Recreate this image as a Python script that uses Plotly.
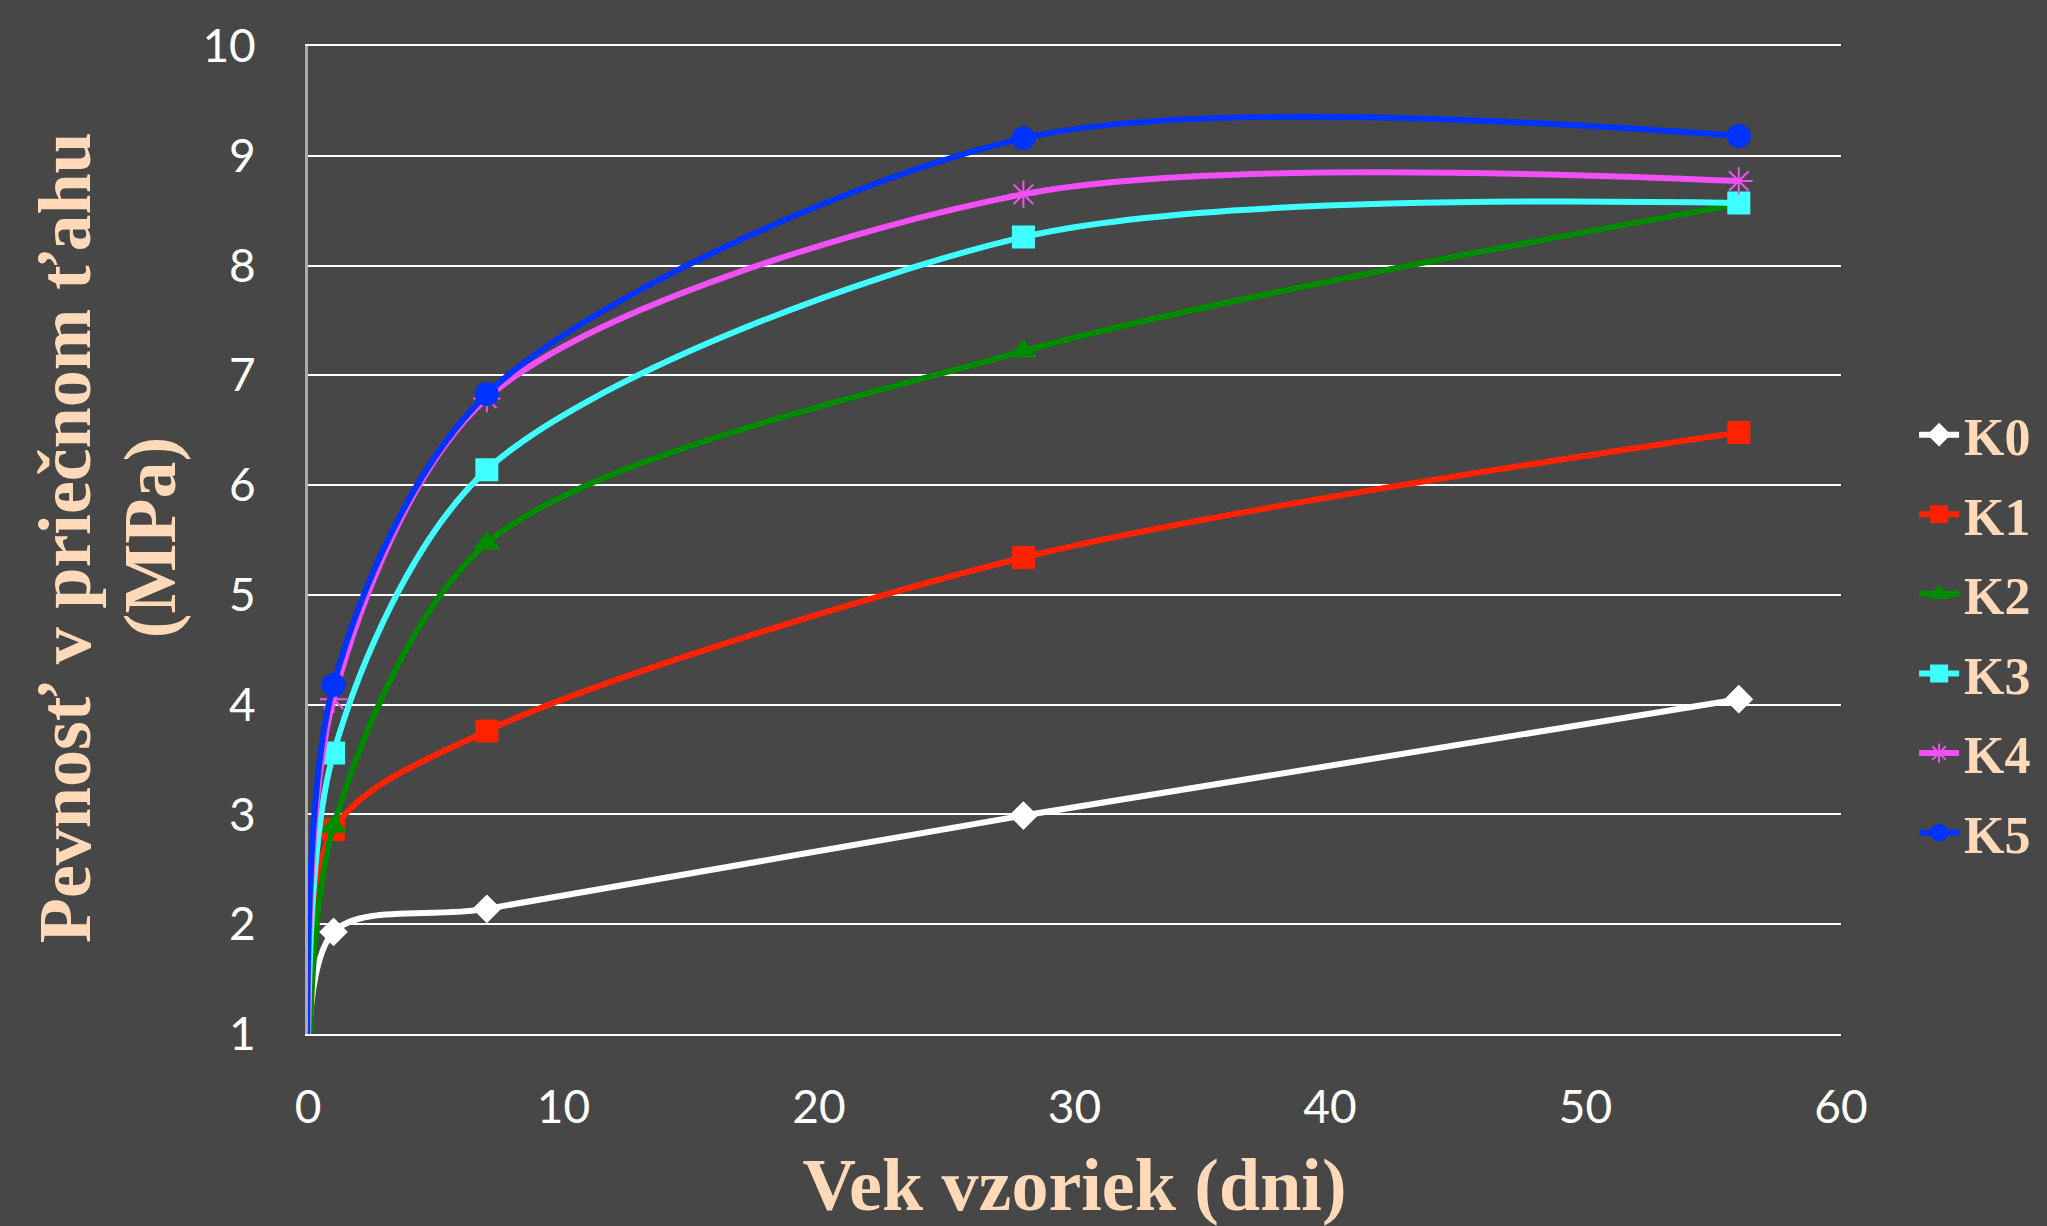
import plotly.graph_objects as go

days = [0, 1, 7, 28, 56]
series_names = ["K0", "K1", "K2", "K3", "K4", "K5"]
k0 = [0, 1.93, 2.14, 2.99, 4.05]
k1 = [0, 2.86, 3.76, 5.34, 6.48]
k2 = [0, 2.89, 5.47, 7.22, 8.56]
k3 = [0, 3.56, 6.14, 8.26, 8.57]
k4 = [0, 4.05, 6.79, 8.65, 8.77]
k5 = [0, 4.18, 6.83, 9.16, 9.18]
series_values = [k0, k1, k2, k3, k4, k5]

x_ticks = [0, 10, 20, 30, 40, 50, 60]
y_ticks = [1, 2, 3, 4, 5, 6, 7, 8, 9, 10]

colors = ["#FFFFFF", "#FF2200", "#008A00", "#40FFFF", "#F050F5", "#0033FF"]
symbols = ["diamond", "square", "triangle-up", "square", "asterisk-open", "circle"]
msizes = [20, 21, 21, 21, 23, 22]

BG = "#474747"
PEACH = "#FFD9B8"
TITLE_FONT = dict(family="Liberation Serif", size=74, color=PEACH, weight="bold")

fig = go.Figure()
for i, (name, vals) in enumerate(zip(series_names, series_values)):
    fig.add_trace(go.Scatter(
        x=days, y=vals, name=name, mode="lines+markers",
        line=dict(color=colors[i], width=6, shape="spline", smoothing=0.85),
        marker=dict(symbol=symbols[i], size=msizes[i], color=colors[i],
                    line=dict(color=colors[i], width=2)),
        selectedpoints=[1, 2, 3, 4],
        unselected=dict(marker=dict(opacity=0)),
        legendgroup=name,
    ))

fig.update_layout(
    width=2047, height=1226,
    paper_bgcolor=BG, plot_bgcolor=BG,
    margin=dict(l=308, r=205, t=46, b=192),
    showlegend=True,
    legend=dict(x=1.047, xanchor="left", y=0.405, yanchor="middle",
                font=dict(family="Liberation Serif", size=52, color=PEACH, weight="bold"),
                tracegroupgap=9, bgcolor="rgba(0,0,0,0)", itemwidth=40),
    xaxis=dict(range=[0, 60], tickvals=x_ticks, showgrid=False, zeroline=False,
               showline=True, mirror=True, linecolor="white", linewidth=2,
               ticks="outside", ticklen=32, tickcolor="rgba(0,0,0,0)",
               tickfont=dict(family="Lato", size=46, color="white"),
               title=dict(text="Vek vzoriek (dni)", standoff=31, font=TITLE_FONT),
               automargin=False),
    yaxis=dict(range=[1, 10], tickvals=y_ticks, showgrid=True, gridcolor="white", gridwidth=2,
               zeroline=False, showline=True, linecolor="#AAAAAA", linewidth=3,
               ticks="outside", ticklen=40, tickcolor="rgba(0,0,0,0)",
               tickfont=dict(family="Lato", size=46, color="white"),
               automargin=False),
    annotations=[
        dict(text="Pevnosť v priečnom ťahu", textangle=-90, xref="paper", yref="paper",
             x=-0.1584, y=0.502, xanchor="center", yanchor="middle", showarrow=False,
             font=TITLE_FONT),
        dict(text="(MPa)", textangle=-90, xref="paper", yref="paper",
             x=-0.103, y=0.502, xanchor="center", yanchor="middle", showarrow=False,
             font=TITLE_FONT),
    ],
)

fig.write_html(
    "out.html",
    config={"displayModeBar": False},
    post_script="document.body.style.margin='0';document.body.style.background='#474747';",
)
